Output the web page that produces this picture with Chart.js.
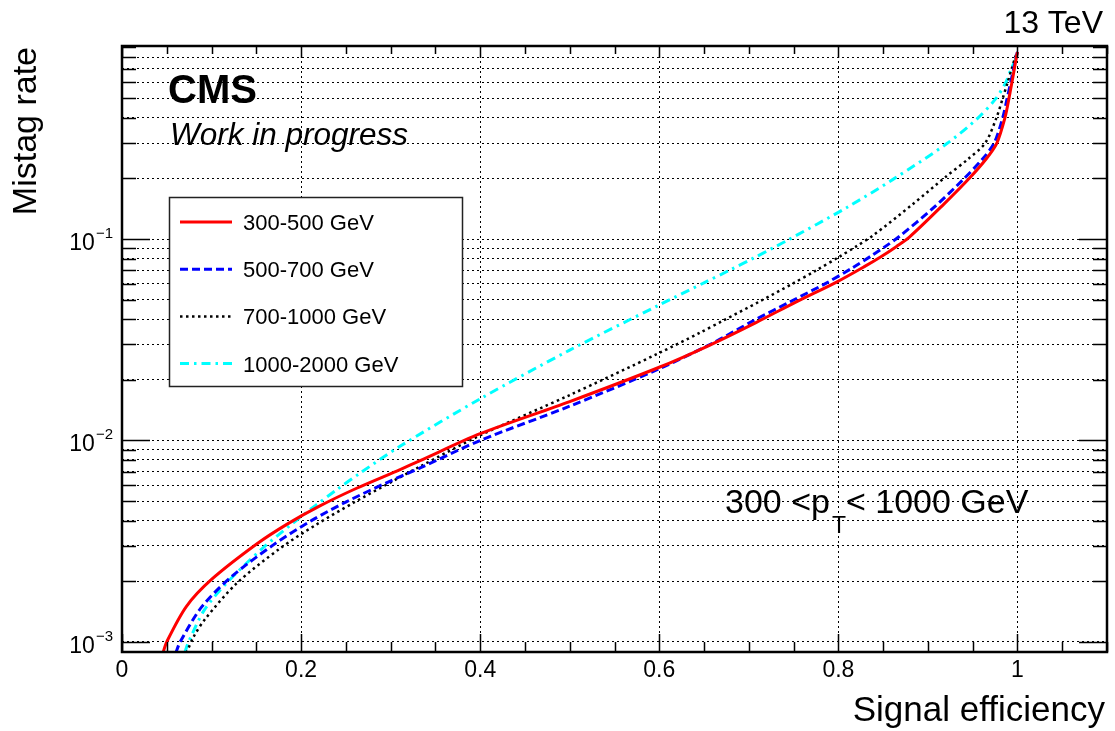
<!DOCTYPE html>
<html>
<head>
<meta charset="utf-8">
<script src="https://cdn.jsdelivr.net/npm/chart.js@4.4.0/dist/chart.umd.min.js"></script>
<style>
    html, body { margin: 0; padding: 0; background: #fff; }
    #caixa { width: 1115px; height: 731px; }
</style>
</head>
<body>
<div id="caixa"><canvas id="grafico" width="1115" height="731"></canvas></div>
<script>
const nomesSeries = ['300-500 GeV', '500-700 GeV', '700-1000 GeV', '1000-2000 GeV'];

// signal efficiency / mistag rate
const eff300 = [0.045, 0.050, 0.072, 0.100, 0.150, 0.184, 0.221, 0.262, 0.310, 0.333, 0.400, 0.500, 0.600, 0.656, 0.708, 0.753, 0.798, 0.829, 0.848, 0.865, 0.879, 0.917, 0.946, 0.965, 0.977, 0.986, 0.9905, 0.9938, 0.9965, 0.9988, 1.0];
const mis300 = [0.00086, 0.00100, 0.00150, 0.00204, 0.00305, 0.00383, 0.00473, 0.00579, 0.00715, 0.00794, 0.0108, 0.0156, 0.0231, 0.0297, 0.0385, 0.0488, 0.0612, 0.0730, 0.0820, 0.0920, 0.102, 0.148, 0.200, 0.250, 0.300, 0.400, 0.500, 0.600, 0.700, 0.800, 0.850];

const eff500 = [0.060, 0.065, 0.089, 0.122, 0.169, 0.212, 0.251, 0.299, 0.333, 0.400, 0.500, 0.600, 0.660, 0.705, 0.746, 0.786, 0.816, 0.838, 0.853, 0.868, 0.907, 0.939, 0.961, 0.974, 0.9835, 0.9885, 0.9925, 0.9957, 0.9985, 1.0];
const mis500 = [0.00088, 0.00100, 0.00149, 0.00210, 0.00303, 0.00401, 0.00497, 0.00627, 0.00730, 0.0100, 0.0148, 0.0227, 0.0305, 0.0393, 0.0488, 0.0603, 0.0721, 0.0832, 0.0923, 0.103, 0.144, 0.197, 0.250, 0.300, 0.400, 0.500, 0.600, 0.700, 0.800, 0.850];

const eff700 = [0.072, 0.080, 0.093, 0.128, 0.176, 0.217, 0.258, 0.303, 0.333, 0.400, 0.500, 0.600, 0.645, 0.671, 0.712, 0.749, 0.775, 0.801, 0.820, 0.839, 0.883, 0.920, 0.945, 0.964, 0.9765, 0.9835, 0.989, 0.9935, 0.9975, 1.0];
const mis700 = [0.00088, 0.00106, 0.00130, 0.00195, 0.00290, 0.00382, 0.00489, 0.00630, 0.00743, 0.0106, 0.0168, 0.0272, 0.0342, 0.0393, 0.0490, 0.0601, 0.0698, 0.0817, 0.0920, 0.1045, 0.149, 0.204, 0.250, 0.300, 0.400, 0.500, 0.600, 0.700, 0.800, 0.850];

const eff1000 = [0.070, 0.074, 0.092, 0.117, 0.156, 0.191, 0.217, 0.240, 0.265, 0.310, 0.400, 0.500, 0.600, 0.651, 0.680, 0.705, 0.727, 0.742, 0.810, 0.861, 0.922, 0.956, 0.976, 0.987, 0.993, 0.998, 1.0];
const mis1000 = [0.00088, 0.00099, 0.00144, 0.00196, 0.00289, 0.00389, 0.00479, 0.00570, 0.00684, 0.00933, 0.0161, 0.0281, 0.0471, 0.0610, 0.0706, 0.0804, 0.0904, 0.0980, 0.144, 0.198, 0.300, 0.400, 0.500, 0.600, 0.700, 0.780, 0.820];

const xTickLabels = ['0', '0.2', '0.4', '0.6', '0.8', '1'];
const xTickValues = [0, 0.2, 0.4, 0.6, 0.8, 1.0];
const yExpoentes = [-3, -2, -1];

const fonte = '"Liberation Sans", Arial, Helvetica, sans-serif';
const xMin = 0, xMax = 1.1, yMin = 0.00089, yMax = 0.91;

function pontos(xs, ys) {
    return xs.map((x, i) => ({ x: x, y: ys[i] }));
}

// every 1..9 x 10^n inside the range
let gradeY = [];
yExpoentes.forEach(e => {
    for (let m = 1; m <= 9; m++) {
        const v = m * Math.pow(10, e);
        if (v >= yMin && v <= yMax) gradeY.push(v);
    }
});

const desenhoExtra = {
    id: 'desenhoExtra',
    afterDatasetsDraw(chart) {
        const ctx = chart.ctx;
        const ds = chart.data.datasets;
        ctx.save();
        // legend box
        ctx.fillStyle = '#fff';
        ctx.fillRect(169, 197, 294, 190);
        ctx.lineWidth = 1.5;
        ctx.strokeStyle = '#222';
        ctx.strokeRect(169.5, 197.5, 293, 189);
        ctx.font = '22px ' + fonte;
        ctx.textBaseline = 'alphabetic';
        ctx.textAlign = 'left';
        for (let i = 0; i < ds.length; i++) {
            const yl = 222 + i * 47.2;
            ctx.beginPath();
            ctx.setLineDash(ds[i].borderDash || []);
            ctx.lineWidth = ds[i].borderWidth;
            ctx.strokeStyle = ds[i].borderColor;
            ctx.moveTo(180, yl);
            ctx.lineTo(232, yl);
            ctx.stroke();
            ctx.setLineDash([]);
            ctx.fillStyle = '#000';
            ctx.fillText(ds[i].label, 243, yl + 8);
        }
        ctx.restore();
    },
    afterDraw(chart) {
        const ctx = chart.ctx;
        const a = chart.chartArea;
        const sx = chart.scales.x, sy = chart.scales.y;
        ctx.save();
        ctx.strokeStyle = '#000';
        ctx.fillStyle = '#000';

        // tick marks, inside the frame
        ctx.lineWidth = 1.5;
        ctx.beginPath();
        gradeY.forEach(v => {
            const p = Math.round(sy.getPixelForValue(v)) + 0.5;
            const grande = Math.abs(Math.log10(v) - Math.round(Math.log10(v))) < 1e-6;
            const l = grande ? 28 : 14;
            ctx.moveTo(a.left, p); ctx.lineTo(a.left + l, p);
            ctx.moveTo(a.right, p); ctx.lineTo(a.right - l, p);
        });
        for (let k = 0; k * 0.05 <= xMax + 1e-9; k++) {
            const p = Math.round(sx.getPixelForValue(k * 0.05)) + 0.5;
            const grande = k % 4 === 0;
            ctx.moveTo(p, a.bottom); ctx.lineTo(p, a.bottom - (grande ? 18 : 10));
            ctx.moveTo(p, a.top); ctx.lineTo(p, a.top + (grande ? 12 : 8));
        }
        ctx.stroke();

        // frame
        ctx.lineWidth = 2.5;
        ctx.strokeRect(a.left, a.top, a.right - a.left, a.bottom - a.top);

        // x tick labels
        ctx.font = '23px ' + fonte;
        ctx.textAlign = 'center';
        ctx.textBaseline = 'alphabetic';
        xTickValues.forEach((v, i) => {
            ctx.fillText(xTickLabels[i], sx.getPixelForValue(v), 677);
        });

        // y tick labels 10^n
        yExpoentes.forEach(e => {
            const p = sy.getPixelForValue(Math.pow(10, e));
            ctx.textAlign = 'right';
            ctx.font = '15px ' + fonte;
            const sup = '\u2212' + Math.abs(e);
            ctx.fillText(sup, 113, p - 1);
            const ws = ctx.measureText(sup).width;
            ctx.font = '23px ' + fonte;
            ctx.fillText('10', 113 - ws - 1, p + 11);
        });

        // axis titles
        ctx.font = '35px ' + fonte;
        ctx.textAlign = 'right';
        ctx.fillText('Signal efficiency', 1105, 721);
        ctx.save();
        ctx.translate(36, 47);
        ctx.rotate(-Math.PI / 2);
        ctx.font = '34px ' + fonte;
        ctx.textAlign = 'right';
        ctx.fillText('Mistag rate', 0, 0);
        ctx.restore();

        ctx.font = '32px ' + fonte;
        ctx.textAlign = 'right';
        ctx.fillText('13 TeV', 1103, 33);

        ctx.textAlign = 'left';
        ctx.font = 'bold 40px ' + fonte;
        ctx.fillText('CMS', 168, 103);
        ctx.font = 'italic 31.5px ' + fonte;
        ctx.fillText('Work in progress', 170, 145);

        // 300 <p_T < 1000 GeV
        ctx.font = '34px ' + fonte;
        let x0 = 725;
        ctx.fillText('300 <p', x0, 513);
        x0 += ctx.measureText('300 <p').width + 2;
        ctx.font = '23px ' + fonte;
        ctx.fillText('T', x0, 533);
        x0 += ctx.measureText('T').width;
        ctx.font = '34px ' + fonte;
        ctx.fillText('< 1000 GeV', x0, 513);
        ctx.restore();
    }
};

const grafico = document.getElementById('grafico').getContext('2d');

let meuGrafico = new Chart(grafico, {
    type: 'line',
    data: {
        datasets: [{
            label: nomesSeries[0],
            data: pontos(eff300, mis300),
            borderColor: '#ff0000',
            borderWidth: 3,
            borderDash: []
        }, {
            label: nomesSeries[1],
            data: pontos(eff500, mis500),
            borderColor: '#0000ff',
            borderWidth: 3,
            borderDash: [8, 4]
        }, {
            label: nomesSeries[2],
            data: pontos(eff700, mis700),
            borderColor: '#000000',
            borderWidth: 2.5,
            borderDash: [2.5, 3.5]
        }, {
            label: nomesSeries[3],
            data: pontos(eff1000, mis1000),
            borderColor: '#00ffff',
            borderWidth: 3,
            borderDash: [9, 5, 2.5, 5]
        }]
    },
    options: {
        responsive: false,
        animation: false,
        layout: { padding: { left: 122, top: 46, right: 8, bottom: 79 } },
        plugins: {
            legend: { display: false },
            tooltip: { enabled: false }
        },
        elements: {
            point: { radius: 0 },
            line: { tension: 0.3, fill: false }
        },
        scales: {
            x: {
                type: 'linear',
                min: xMin,
                max: xMax,
                afterBuildTicks: s => { s.ticks = xTickValues.filter(v => v > 0).map(v => ({ value: v })); },
                ticks: { display: false },
                grid: { color: '#000', lineWidth: 1, drawTicks: false },
                border: { display: false, dash: [2, 3] }
            },
            y: {
                type: 'logarithmic',
                min: yMin,
                max: yMax,
                afterBuildTicks: s => { s.ticks = gradeY.map(v => ({ value: v })); },
                ticks: { display: false },
                grid: { color: '#000', lineWidth: 1, drawTicks: false },
                border: { display: false, dash: [2, 3] }
            }
        }
    },
    plugins: [desenhoExtra]
});
</script>
</body>
</html>
